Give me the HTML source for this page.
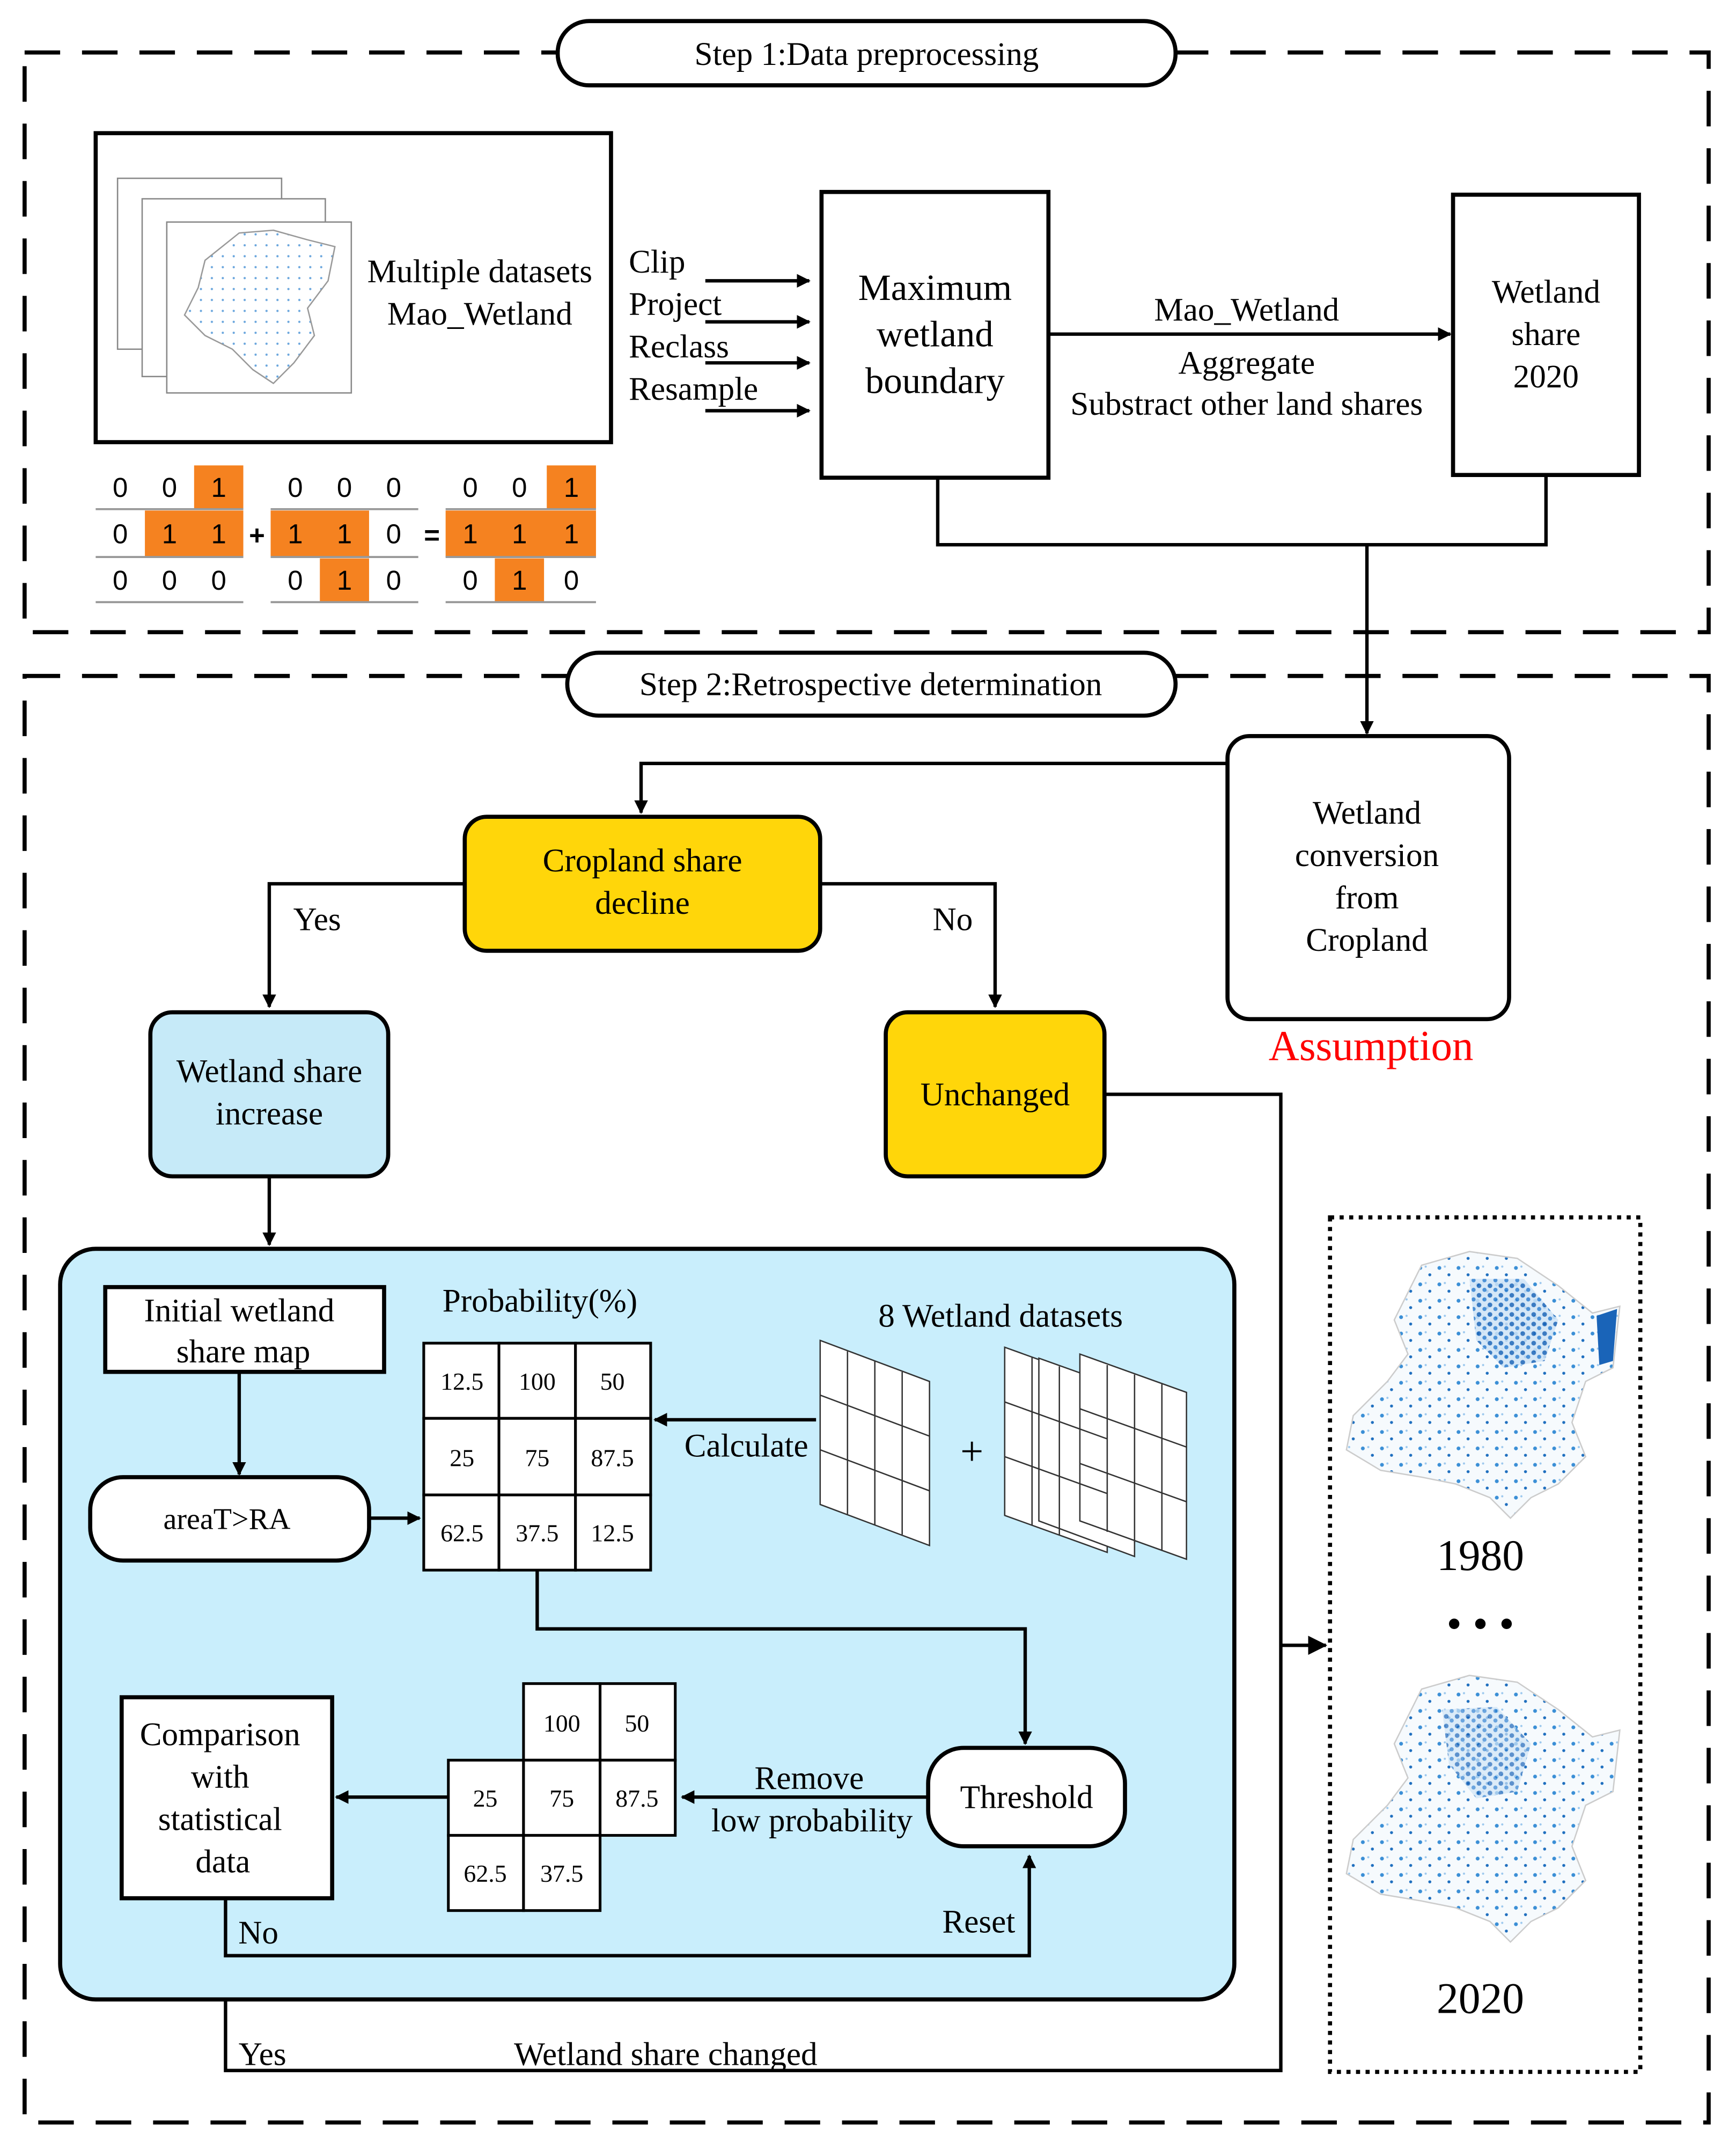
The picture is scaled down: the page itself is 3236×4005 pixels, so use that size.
<!DOCTYPE html>
<html><head><meta charset="utf-8"><style>html,body{margin:0;padding:0;background:#fff}svg{display:block}</style></head><body>
<svg width="3236" height="4005" viewBox="0 0 1270 1571" xmlns="http://www.w3.org/2000/svg" font-family="Liberation Serif, serif" font-size="24">
<defs>
<marker id="ar" markerWidth="10" markerHeight="10" refX="9" refY="5" orient="auto" markerUnits="userSpaceOnUse"><path d="M0,0 L10,5 L0,10 z" fill="#000"/></marker>
<marker id="ar2" markerWidth="14" markerHeight="14" refX="13" refY="7" orient="auto" markerUnits="userSpaceOnUse"><path d="M0,0 L14,7 L0,14 z" fill="#000"/></marker>
<pattern id="dots" width="14" height="12" patternUnits="userSpaceOnUse"><rect width="14" height="12" fill="#f6fafd"/><circle cx="3" cy="3" r="1.4" fill="#3b8fd6"/><circle cx="10" cy="8" r="1.1" fill="#1f6fbf"/><circle cx="7" cy="2" r="0.8" fill="#9cc8ee"/></pattern>
<pattern id="dots2" width="8" height="7" patternUnits="userSpaceOnUse"><rect width="8" height="7" fill="#cfe4f6"/><circle cx="2" cy="2" r="1.7" fill="#1a64b8"/><circle cx="6" cy="5" r="1.5" fill="#2e7fd0"/></pattern>
<pattern id="sdots" width="8" height="8" patternUnits="userSpaceOnUse"><rect width="8" height="8" fill="#fff"/><circle cx="3" cy="3" r="0.8" fill="#6aa6dd"/></pattern>
</defs>
<g fill="none" stroke="#000" stroke-width="3" stroke-dasharray="26,16">
<rect x="18" y="38" width="1232" height="424"/>
<rect x="18" y="494" width="1232" height="1058"/>
</g>
<rect x="408" y="15" width="452" height="47" rx="23" fill="#fff" stroke="#000" stroke-width="3"/>
<text x="634" y="47" text-anchor="middle">Step  1:Data preprocessing</text>
<rect x="415" y="477" width="445" height="46" rx="23" fill="#fff" stroke="#000" stroke-width="3"/>
<text x="637" y="508" text-anchor="middle">Step  2:Retrospective determination</text>

<rect x="70" y="97" width="377" height="226" fill="#fff" stroke="#000" stroke-width="3"/>
<rect x="86" y="130" width="120" height="125" fill="#fff" stroke="#888"/>
<rect x="104" y="145" width="134" height="130" fill="#fff" stroke="#888"/>
<rect x="122" y="162" width="135" height="125" fill="#fff" stroke="#888"/>
<path d="M150,190 L175,170 L200,168 L225,175 L245,180 L240,205 L225,225 L230,245 L215,265 L200,280 L185,270 L170,255 L150,245 L135,230 L145,210 Z" fill="url(#sdots)" stroke="#999"/>
<text x="351" y="206" text-anchor="middle">Multiple datasets</text>
<text x="351" y="237" text-anchor="middle">Mao_Wetland</text>

<g font-family="Liberation Sans, sans-serif" font-size="20" text-anchor="middle">
<g fill="#f58220">
<rect x="142" y="340" width="36" height="32"/><rect x="106" y="373" width="72" height="34"/>
<rect x="198" y="373" width="72" height="34"/><rect x="234" y="408" width="36" height="32"/>
<rect x="400" y="340" width="36" height="32"/><rect x="326" y="373" width="110" height="34"/><rect x="362" y="408" width="36" height="32"/>
</g>
<g stroke="#999" stroke-width="1.5"><line x1="70" y1="372" x2="178" y2="372"/><line x1="70" y1="407" x2="178" y2="407"/><line x1="70" y1="440" x2="178" y2="440"/>
<line x1="198" y1="372" x2="306" y2="372"/><line x1="198" y1="407" x2="306" y2="407"/><line x1="198" y1="440" x2="306" y2="440"/>
<line x1="326" y1="372" x2="436" y2="372"/><line x1="326" y1="407" x2="436" y2="407"/><line x1="326" y1="440" x2="436" y2="440"/></g>
<text x="88" y="363">0</text><text x="124" y="363">0</text><text x="160" y="363">1</text>
<text x="88" y="397">0</text><text x="124" y="397">1</text><text x="160" y="397">1</text>
<text x="88" y="431">0</text><text x="124" y="431">0</text><text x="160" y="431">0</text>
<text x="216" y="363">0</text><text x="252" y="363">0</text><text x="288" y="363">0</text>
<text x="216" y="397">1</text><text x="252" y="397">1</text><text x="288" y="397">0</text>
<text x="216" y="431">0</text><text x="252" y="431">1</text><text x="288" y="431">0</text>
<text x="344" y="363">0</text><text x="380" y="363">0</text><text x="418" y="363">1</text>
<text x="344" y="397">1</text><text x="380" y="397">1</text><text x="418" y="397">1</text>
<text x="344" y="431">0</text><text x="380" y="431">1</text><text x="418" y="431">0</text>
<text x="188" y="398" font-weight="bold">+</text><text x="316" y="398" font-weight="bold">=</text>
</g>

<text x="460" y="199">Clip</text><text x="460" y="230">Project</text><text x="460" y="261">Reclass</text><text x="460" y="292">Resample</text>
<g stroke="#000" stroke-width="2.5" marker-end="url(#ar)">
<line x1="516" y1="205" x2="592" y2="205"/><line x1="516" y1="235" x2="592" y2="235"/><line x1="516" y1="265" x2="592" y2="265"/><line x1="516" y1="300" x2="592" y2="300"/>
</g>
<rect x="601" y="140" width="166" height="209" fill="#fff" stroke="#000" stroke-width="3"/>
<text x="684" y="219" text-anchor="middle" font-size="27">Maximum</text>
<text x="684" y="253" text-anchor="middle" font-size="27">wetland</text>
<text x="684" y="287" text-anchor="middle" font-size="27">boundary</text>
<line x1="767" y1="244" x2="1061" y2="244" stroke="#000" stroke-width="2.5" marker-end="url(#ar)"/>
<text x="912" y="234" text-anchor="middle">Mao_Wetland</text>
<text x="912" y="273" text-anchor="middle">Aggregate</text>
<text x="912" y="303" text-anchor="middle">Substract other land shares</text>
<rect x="1063" y="142" width="136" height="205" fill="#fff" stroke="#000" stroke-width="3"/>
<text x="1131" y="221" text-anchor="middle">Wetland</text><text x="1131" y="252" text-anchor="middle">share</text><text x="1131" y="283" text-anchor="middle">2020</text>
<path d="M686,349 V398 H1131 V347" fill="none" stroke="#000" stroke-width="2.5"/>
<line x1="1000" y1="398" x2="1000" y2="536" stroke="#000" stroke-width="2.5" marker-end="url(#ar)"/>

<rect x="898" y="538" width="206" height="207" rx="16" fill="#fff" stroke="#000" stroke-width="3"/>
<text x="1000" y="602" text-anchor="middle">Wetland</text><text x="1000" y="633" text-anchor="middle">conversion</text><text x="1000" y="664" text-anchor="middle">from</text><text x="1000" y="695" text-anchor="middle">Cropland</text>
<text x="1003" y="775" text-anchor="middle" fill="#ff0000" font-size="31">Assumption</text>
<path d="M898,558 H469 V594" fill="none" stroke="#000" stroke-width="2.5" marker-end="url(#ar)"/>
<rect x="340" y="597" width="260" height="98" rx="16" fill="#ffd60a" stroke="#000" stroke-width="3"/>
<text x="470" y="637" text-anchor="middle">Cropland share</text><text x="470" y="668" text-anchor="middle">decline</text>
<path d="M340,646 H197 V736" fill="none" stroke="#000" stroke-width="2.5" marker-end="url(#ar)"/>
<path d="M600,646 H728 V736" fill="none" stroke="#000" stroke-width="2.5" marker-end="url(#ar)"/>
<text x="232" y="680" text-anchor="middle">Yes</text><text x="697" y="680" text-anchor="middle">No</text>
<rect x="110" y="740" width="174" height="120" rx="16" fill="#c6eaf8" stroke="#000" stroke-width="3"/>
<text x="197" y="791" text-anchor="middle">Wetland share</text><text x="197" y="822" text-anchor="middle">increase</text>
<rect x="648" y="740" width="160" height="120" rx="16" fill="#ffd60a" stroke="#000" stroke-width="3"/>
<text x="728" y="808" text-anchor="middle">Unchanged</text>
<path d="M808,800 H937 V1514 H165 V1430" fill="none" stroke="#000" stroke-width="2.5"/>
<line x1="937" y1="1203" x2="970" y2="1203" stroke="#000" stroke-width="2.5" marker-end="url(#ar2)"/>
<line x1="197" y1="860" x2="197" y2="910" stroke="#000" stroke-width="2.5" marker-end="url(#ar)"/>

<rect x="44" y="913" width="859" height="549" rx="26" fill="#c9eefc" stroke="#000" stroke-width="3"/>
<rect x="77" y="941" width="204" height="62" fill="#fff" stroke="#000" stroke-width="3"/>
<text x="175" y="966" text-anchor="middle">Initial wetland</text><text x="178" y="996" text-anchor="middle">share map</text>
<line x1="175" y1="1003" x2="175" y2="1078" stroke="#000" stroke-width="2.5" marker-end="url(#ar)"/>
<rect x="66" y="1080" width="204" height="61" rx="24" fill="#fff" stroke="#000" stroke-width="3"/>
<text x="166" y="1118" text-anchor="middle" font-size="22">areaT&gt;RA</text>
<line x1="270" y1="1110" x2="307" y2="1110" stroke="#000" stroke-width="2.5" marker-end="url(#ar)"/>
<text x="395" y="959" text-anchor="middle">Probability(%)</text>
<g fill="#fff" stroke="#000" stroke-width="2">
<rect x="310" y="982" width="55" height="55"/><rect x="365" y="982" width="56" height="55"/><rect x="421" y="982" width="55" height="55"/>
<rect x="310" y="1037" width="55" height="56"/><rect x="365" y="1037" width="56" height="56"/><rect x="421" y="1037" width="55" height="56"/>
<rect x="310" y="1093" width="55" height="55"/><rect x="365" y="1093" width="56" height="55"/><rect x="421" y="1093" width="55" height="55"/>
</g>
<g font-size="18" text-anchor="middle">
<text x="338" y="1016">12.5</text><text x="393" y="1016">100</text><text x="448" y="1016">50</text>
<text x="338" y="1072">25</text><text x="393" y="1072">75</text><text x="448" y="1072">87.5</text>
<text x="338" y="1127">62.5</text><text x="393" y="1127">37.5</text><text x="448" y="1127">12.5</text>
</g>
<line x1="597" y1="1038" x2="479" y2="1038" stroke="#000" stroke-width="2.5" marker-end="url(#ar)"/>
<text x="546" y="1065" text-anchor="middle">Calculate</text>
<text x="732" y="970" text-anchor="middle">8 Wetland datasets</text>
<g stroke="#333" stroke-width="1" fill="#fff">
<path d="M600,980 L680,1010 L680,1130 L600,1100 Z"/>
<path d="M620,988 V1107 M640,995 V1115 M660,1003 V1122 M600,1020 L680,1050 M600,1060 L680,1090" fill="none"/>
<path d="M735,985 L810,1012 L810,1135 L735,1108 Z"/>
<path d="M760,993 L830,1018 L830,1138 L760,1112 Z"/>
<path d="M790,990 L868,1018 L868,1140 L790,1112 Z"/>
<path d="M755,992 V1115 M775,999 V1122 M810,998 V1120 M830,1005 V1128 M850,1012 V1134 M790,1030 L868,1058 M790,1070 L868,1098 M735,1025 L810,1052 M735,1065 L810,1092" fill="none"/>
</g>
<text x="711" y="1071" text-anchor="middle" font-size="30">+</text>
<path d="M393,1148 V1191 H750 V1275" fill="none" stroke="#000" stroke-width="2.5" marker-end="url(#ar)"/>
<rect x="679" y="1278" width="144" height="72" rx="26" fill="#fff" stroke="#000" stroke-width="3"/>
<text x="751" y="1322" text-anchor="middle">Threshold</text>
<line x1="679" y1="1314" x2="499" y2="1314" stroke="#000" stroke-width="2.5" marker-end="url(#ar)"/>
<text x="592" y="1308" text-anchor="middle">Remove</text><text x="594" y="1339" text-anchor="middle">low probability</text>
<g fill="#fff" stroke="#000" stroke-width="2">
<rect x="383" y="1231" width="56" height="56"/><rect x="439" y="1231" width="55" height="56"/>
<rect x="328" y="1287" width="55" height="55"/><rect x="383" y="1287" width="56" height="55"/><rect x="439" y="1287" width="55" height="55"/>
<rect x="328" y="1342" width="55" height="55"/><rect x="383" y="1342" width="56" height="55"/>
</g>
<g font-size="18" text-anchor="middle">
<text x="411" y="1266">100</text><text x="466" y="1266">50</text>
<text x="355" y="1321">25</text><text x="411" y="1321">75</text><text x="466" y="1321">87.5</text>
<text x="355" y="1376">62.5</text><text x="411" y="1376">37.5</text>
</g>
<line x1="328" y1="1314" x2="246" y2="1314" stroke="#000" stroke-width="2.5" marker-end="url(#ar)"/>
<rect x="89" y="1241" width="154" height="147" fill="#fff" stroke="#000" stroke-width="3"/>
<text x="161" y="1276" text-anchor="middle">Comparison</text><text x="161" y="1307" text-anchor="middle">with</text><text x="161" y="1338" text-anchor="middle">statistical</text><text x="163" y="1369" text-anchor="middle">data</text>
<path d="M165,1388 V1430 H753 V1357" fill="none" stroke="#000" stroke-width="2.5" marker-end="url(#ar)"/>
<text x="189" y="1421" text-anchor="middle">No</text><text x="716" y="1413" text-anchor="middle">Reset</text>
<text x="192" y="1510" text-anchor="middle">Yes</text><text x="487" y="1510" text-anchor="middle">Wetland share changed</text>

<rect x="973" y="890" width="227" height="625" fill="#fff" stroke="#000" stroke-width="3" stroke-dasharray="3,4"/>
<path d="M1040,925 L1075,915 L1110,920 L1140,940 L1165,960 L1185,955 L1180,1000 L1160,1010 L1150,1040 L1160,1065 L1140,1085 L1120,1095 L1105,1110 L1090,1095 L1065,1085 L1040,1080 L1010,1075 L985,1060 L990,1035 L1015,1010 L1030,990 L1020,965 Z" fill="url(#dots)" stroke="#ccc"/>
<path d="M1075,935 L1115,935 L1140,965 L1130,995 L1100,1000 L1080,980 Z" fill="url(#dots2)" opacity="0.85"/>
<path d="M1168,962 L1183,957 L1180,995 L1170,998 Z" fill="#1a64b8"/>
<text x="1083" y="1148" text-anchor="middle" font-size="32">1980</text>
<text x="1083" y="1198" text-anchor="middle" font-size="32">• • •</text>
<path d="M1040,1235 L1075,1225 L1110,1230 L1140,1250 L1165,1270 L1185,1265 L1180,1310 L1160,1320 L1150,1350 L1160,1375 L1140,1395 L1120,1405 L1105,1420 L1090,1405 L1065,1395 L1040,1390 L1010,1385 L985,1370 L990,1345 L1015,1320 L1030,1300 L1020,1275 Z" fill="url(#dots)" stroke="#ccc"/>
<path d="M1055,1250 L1095,1248 L1120,1275 L1110,1310 L1080,1315 L1060,1290 Z" fill="url(#dots2)" opacity="0.7"/>
<text x="1083" y="1472" text-anchor="middle" font-size="32">2020</text>
</svg>
</body></html>
